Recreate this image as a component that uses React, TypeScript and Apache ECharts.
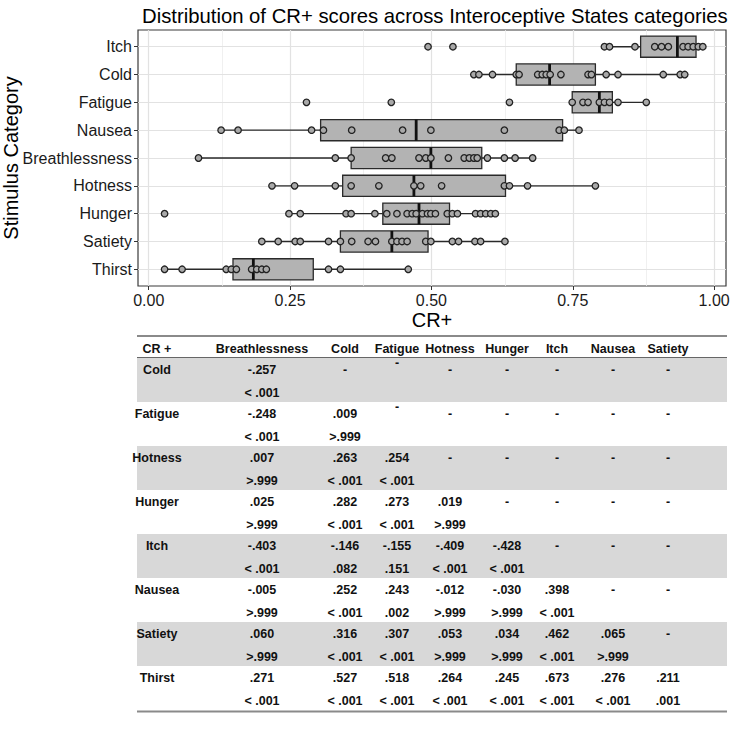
import React, { useEffect, useRef } from 'react';
import * as echarts from 'echarts';

// Stimulus categories, top to bottom
const categories = ['Itch', 'Cold', 'Fatigue', 'Nausea', 'Breathlessness', 'Hotness', 'Hunger', 'Satiety', 'Thirst'];

// Box statistics per category (same order as categories)
const whiskerLow = [0.806, 0.575, 0.749, 0.128, 0.088, 0.218, 0.248, 0.2, 0.028];
const lowerQuartile = [0.87, 0.65, 0.749, 0.304, 0.358, 0.343, 0.414, 0.339, 0.149];
const medians = [0.935, 0.709, 0.797, 0.473, 0.499, 0.469, 0.478, 0.43, 0.185];
const upperQuartile = [0.968, 0.79, 0.82, 0.732, 0.589, 0.631, 0.532, 0.494, 0.291];
const whiskerHigh = [0.98, 0.948, 0.88, 0.761, 0.679, 0.79, 0.613, 0.63, 0.459];

// Individual CR+ scores per category
const itchScores = [0.494, 0.538, 0.806, 0.815, 0.86, 0.895, 0.907, 0.919, 0.945, 0.954, 0.963, 0.972, 0.98];
const coldScores = [0.575, 0.584, 0.608, 0.65, 0.655, 0.688, 0.696, 0.703, 0.71, 0.729, 0.777, 0.783, 0.809, 0.83, 0.91, 0.94, 0.948];
const fatigueScores = [0.279, 0.429, 0.638, 0.749, 0.768, 0.777, 0.797, 0.806, 0.815, 0.83, 0.88];
const nauseaScores = [0.128, 0.158, 0.288, 0.309, 0.359, 0.449, 0.499, 0.629, 0.726, 0.735, 0.761];
const breathlessnessScores = [0.088, 0.33, 0.358, 0.419, 0.43, 0.478, 0.49, 0.499, 0.53, 0.558, 0.567, 0.575, 0.581, 0.599, 0.629, 0.648, 0.679];
const hotnessScores = [0.218, 0.258, 0.33, 0.358, 0.407, 0.469, 0.481, 0.518, 0.629, 0.638, 0.67, 0.79];
const hungerScores = [0.028, 0.248, 0.268, 0.349, 0.358, 0.4, 0.421, 0.439, 0.457, 0.466, 0.473, 0.484, 0.493, 0.499, 0.507, 0.528, 0.537, 0.546, 0.578, 0.587, 0.596, 0.605, 0.613];
const satietyScores = [0.2, 0.229, 0.259, 0.268, 0.318, 0.339, 0.359, 0.388, 0.401, 0.43, 0.439, 0.448, 0.457, 0.49, 0.499, 0.537, 0.548, 0.577, 0.587, 0.63];
const thirstScores = [0.028, 0.059, 0.137, 0.146, 0.155, 0.182, 0.191, 0.2, 0.208, 0.318, 0.339, 0.459];

const scoresByCategory = [itchScores, coldScores, fatigueScores, nauseaScores, breathlessnessScores, hotnessScores, hungerScores, satietyScores, thirstScores];

// Axis ticks and grid positions
const xTickValues = [0, 0.25, 0.5, 0.75, 1];
const xMinorValues = [0.125, 0.375, 0.625, 0.875];

// Pairwise comparison table
const tableCorner = 'CR +';
const tableColumns = ['Breathlessness', 'Cold', 'Fatigue', 'Hotness', 'Hunger', 'Itch', 'Nausea', 'Satiety'];
const tableRows = ['Cold', 'Fatigue', 'Hotness', 'Hunger', 'Itch', 'Nausea', 'Satiety', 'Thirst'];
const diffValues = [
  ['-.257', '-', '-', '-', '-', '-', '-', '-'],
  ['-.248', '.009', '-', '-', '-', '-', '-', '-'],
  ['.007', '.263', '.254', '-', '-', '-', '-', '-'],
  ['.025', '.282', '.273', '.019', '-', '-', '-', '-'],
  ['-.403', '-.146', '-.155', '-.409', '-.428', '-', '-', '-'],
  ['-.005', '.252', '.243', '-.012', '-.030', '.398', '-', '-'],
  ['.060', '.316', '.307', '.053', '.034', '.462', '.065', '-'],
  ['.271', '.527', '.518', '.264', '.245', '.673', '.276', '.211'],
];
const pValues = [
  ['< .001', '', '', '', '', '', '', ''],
  ['< .001', '>.999', '', '', '', '', '', ''],
  ['>.999', '< .001', '< .001', '', '', '', '', ''],
  ['>.999', '< .001', '< .001', '>.999', '', '', '', ''],
  ['< .001', '.082', '.151', '< .001', '< .001', '', '', ''],
  ['>.999', '< .001', '.002', '>.999', '>.999', '< .001', '', ''],
  ['>.999', '< .001', '< .001', '>.999', '>.999', '< .001', '>.999', ''],
  ['< .001', '< .001', '< .001', '< .001', '< .001', '< .001', '< .001', '.001'],
];

const FONT = '"Liberation Sans", Arial, Helvetica, sans-serif';

function buildTable(): any[] {
  const left = 137;
  const right = 727;
  const topRule = 336;
  const headerY = 348.5;
  const bodyTop = 358;
  const rowH = 44;
  const colX = [157, 262, 345, 397, 450, 507, 557, 613, 668];
  const textStyle = (text: string, x: number, y: number) => ({
    type: 'text',
    x,
    y,
    silent: true,
    style: {
      text,
      fill: '#111',
      font: `bold 12.5px ${FONT}`,
      align: 'center',
      verticalAlign: 'middle',
    },
  });
  const els: any[] = [];
  tableRows.forEach((_, i) => {
    if (i % 2 === 0) {
      els.push({
        type: 'rect',
        silent: true,
        shape: { x: left, y: bodyTop + i * rowH, width: right - left, height: rowH },
        style: { fill: '#d8d8d8' },
      });
    }
  });
  els.push({ type: 'line', silent: true, shape: { x1: left, y1: topRule, x2: right, y2: topRule }, style: { stroke: '#8a8a8a', lineWidth: 2 } });
  els.push({ type: 'line', silent: true, shape: { x1: left, y1: bodyTop - 0.5, x2: right, y2: bodyTop - 0.5 }, style: { stroke: '#666', lineWidth: 1 } });
  const bottom = bodyTop + tableRows.length * rowH + 1.5;
  els.push({ type: 'line', silent: true, shape: { x1: left, y1: bottom, x2: right, y2: bottom }, style: { stroke: '#8a8a8a', lineWidth: 2 } });

  els.push(textStyle(tableCorner, colX[0], headerY));
  tableColumns.forEach((c, j) => els.push(textStyle(c, colX[j + 1], headerY)));
  tableRows.forEach((r, i) => {
    const y1 = bodyTop + i * rowH + 11.5;
    const y2 = bodyTop + i * rowH + 35;
    els.push(textStyle(r, colX[0], y1));
    diffValues[i].forEach((v, j) => {
      // the dashes in the Fatigue column of the first two rows sit raised
      const raised = v === '-' && j === 2 && i < 2;
      els.push(textStyle(v, colX[j + 1], raised ? y1 - 7 : y1));
    });
    pValues[i].forEach((v, j) => {
      if (v) els.push(textStyle(v, colX[j + 1], y2));
    });
  });
  return els;
}

export default function App() {
  const ref = useRef<HTMLDivElement>(null);

  useEffect(() => {
    if (!ref.current) return;
    const chart = echarts.init(ref.current, null, { renderer: 'svg' });

    const boxData = categories.map((_, i) => [i, whiskerLow[i], lowerQuartile[i], medians[i], upperQuartile[i], whiskerHigh[i]]);
    const pointData: number[][] = [];
    scoresByCategory.forEach((arr, i) => arr.forEach((v) => pointData.push([v, i])));
    const catIdx = categories.map((_, i) => i);

    const option: any = {
      animation: false,
      backgroundColor: '#fff',
      textStyle: { fontFamily: FONT },
      title: {
        text: 'Distribution of CR+ scores across Interoceptive States categories',
        left: 137,
        top: 1,
        textStyle: { fontSize: 20.3, fontWeight: 'normal', color: '#000', fontFamily: FONT },
      },
      grid: {
        left: 138,
        right: 23,
        top: 30,
        height: 256,
        show: true,
        borderColor: '#3a3a3a',
        borderWidth: 1.2,
        backgroundColor: '#fff',
        containLabel: false,
        outerBoundsMode: 'none',
      },
      xAxis: {
        type: 'value',
        min: -0.019,
        max: 1.021,
        axisLine: { show: false, onZero: false },
        axisTick: { show: true, length: 4, customValues: xTickValues, lineStyle: { color: '#333', width: 1 } },
        axisLabel: {
          customValues: xTickValues,
          formatter: (v: number) => v.toFixed(2),
          fontSize: 16,
          color: '#1a1a1a',
          margin: 6,
          fontFamily: FONT,
        },
        splitLine: { show: false },
        name: 'CR+',
        nameLocation: 'middle',
        nameGap: 24,
        nameMoveOverlap: false,
        nameTextStyle: { fontSize: 20, color: '#000', fontFamily: FONT },
      },
      yAxis: {
        type: 'value',
        min: -0.6,
        max: 8.6,
        inverse: true,
        axisLine: { show: false, onZero: false },
        axisTick: { show: true, length: 4, customValues: catIdx, lineStyle: { color: '#333', width: 1 } },
        axisLabel: {
          customValues: catIdx,
          formatter: (v: number) => categories[Math.round(v)] ?? '',
          fontSize: 16,
          color: '#1a1a1a',
          margin: 6,
          fontFamily: FONT,
        },
        splitLine: { show: false },
        name: 'Stimulus Category',
        nameLocation: 'middle',
        nameGap: 117,
        nameRotate: 90,
        nameMoveOverlap: false,
        nameTextStyle: { fontSize: 20, color: '#000', fontFamily: FONT },
      },
      series: [
        {
          // panel grid lines
          type: 'scatter',
          data: [],
          z: 1,
          silent: true,
          markLine: {
            z: 1,
            silent: true,
            symbol: ['none', 'none'],
            label: { show: false },
            emphasis: { disabled: true },
            data: [
              ...xMinorValues.map((v) => ({ xAxis: v, lineStyle: { color: '#ececec', width: 0.8, type: 'solid' } })),
              ...xTickValues.map((v) => ({ xAxis: v, lineStyle: { color: '#e2e2e2', width: 1.2, type: 'solid' } })),
              ...catIdx.map((v) => ({ yAxis: v, lineStyle: { color: '#e2e2e2', width: 1.2, type: 'solid' } })),
            ],
          },
        },
        {
          type: 'custom',
          z: 2,
          silent: true,
          data: boxData,
          encode: { x: [1, 2, 3, 4, 5], y: 0 },
          renderItem: (_params: any, api: any) => {
            const idx = api.value(0);
            const pLo = api.coord([api.value(1), idx]);
            const pA = api.coord([api.value(2), idx]);
            const pM = api.coord([api.value(3), idx]);
            const pB = api.coord([api.value(4), idx]);
            const pHi = api.coord([api.value(5), idx]);
            const band = api.size([0, 1])[1];
            const h = band * 0.76;
            const cy = pA[1];
            const stroke = '#2a2a2a';
            return {
              type: 'group',
              children: [
                { type: 'line', shape: { x1: pLo[0], y1: cy, x2: pA[0], y2: cy }, style: { stroke, lineWidth: 1.4 } },
                { type: 'line', shape: { x1: pB[0], y1: cy, x2: pHi[0], y2: cy }, style: { stroke, lineWidth: 1.4 } },
                {
                  type: 'rect',
                  shape: { x: pA[0], y: cy - h / 2, width: pB[0] - pA[0], height: h },
                  style: { fill: '#b3b3b3', stroke, lineWidth: 1.3 },
                },
                { type: 'line', shape: { x1: pM[0], y1: cy - h / 2, x2: pM[0], y2: cy + h / 2 }, style: { stroke: '#111', lineWidth: 2.8 } },
              ],
            };
          },
        },
        {
          type: 'scatter',
          z: 3,
          silent: true,
          data: pointData,
          symbol: 'circle',
          symbolSize: 6.5,
          itemStyle: { color: '#a9a9a9', borderColor: '#222', borderWidth: 1.3, opacity: 1 },
          emphasis: { disabled: true },
        },
      ],
      graphic: buildTable(),
    };

    chart.setOption(option);
    return () => chart.dispose();
  }, []);

  return (
    <div
      ref={ref}
      style={{ position: 'absolute', left: 0, top: 0, width: 749, height: 731, background: '#fff' }}
    />
  );
}
